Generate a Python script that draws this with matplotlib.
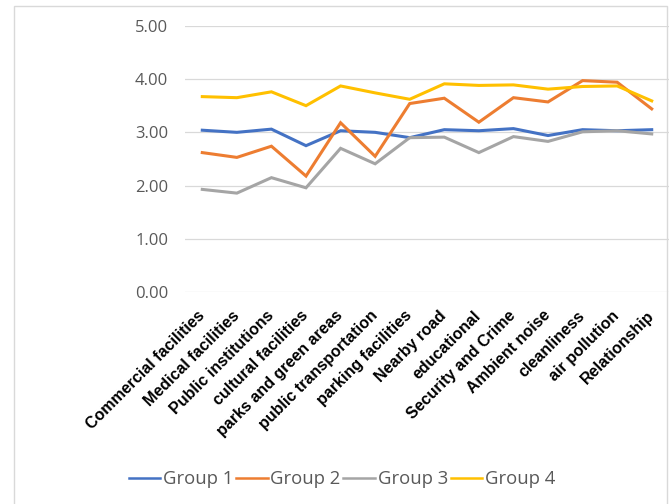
import matplotlib
matplotlib.use("Agg")
import matplotlib.pyplot as plt
from matplotlib.patches import Rectangle

# categories and group means
categories = ["Commercial facilities", "Medical facilities", "Public institutions",
              "cultural facilities", "parks and green areas", "public transportation",
              "parking facilities", "Nearby road", "educational", "Security and Crime",
              "Ambient noise", "cleanliness", "air pollution", "Relationship"]
group1 = [3.04, 3.00, 3.06, 2.75, 3.03, 3.00, 2.90, 3.05, 3.03, 3.07, 2.94, 3.05, 3.03, 3.05]
group2 = [2.62, 2.53, 2.74, 2.18, 3.18, 2.55, 3.54, 3.64, 3.19, 3.65, 3.57, 3.97, 3.94, 3.44]
group3 = [1.93, 1.86, 2.15, 1.96, 2.70, 2.41, 2.90, 2.91, 2.62, 2.92, 2.83, 3.01, 3.03, 2.97]
group4 = [3.67, 3.65, 3.76, 3.50, 3.87, 3.74, 3.62, 3.91, 3.88, 3.89, 3.81, 3.86, 3.87, 3.59]
series = {"Group 1": group1, "Group 2": group2, "Group 3": group3, "Group 4": group4}
colors = ["#4472C4", "#ED7D31", "#A5A5A5", "#FFC000"]
yticks = [0, 1, 2, 3, 4, 5]

W, H = 672, 504
fig = plt.figure(figsize=(W / 100, H / 100), dpi=100)
ax = fig.add_axes([185 / W, 1 - 292.3 / H, (669 - 185) / W, (292.3 - 25.7) / H])

x = list(range(len(categories)))
for (name, vals), c in zip(series.items(), colors):
    ax.plot(x, vals, color=c, lw=2.2, label=name, solid_joinstyle="miter")

ax.set_xlim(-0.5, len(categories) - 0.5)
ax.set_ylim(0, 5)
ax.set_yticks(yticks)
ax.set_yticklabels([f"{v:.2f}" for v in yticks], fontfamily="Open Sans",
                   fontsize=12, color="#595959")
ax.set_xticks(x)
ax.set_xticklabels(categories, rotation=45, ha="right", va="center",
                   rotation_mode="anchor", fontfamily="Liberation Sans",
                   fontweight="bold", fontsize=11.5, color="black")
ax.tick_params(axis="y", length=0, pad=12)
ax.tick_params(axis="x", length=0, pad=15)
ax.grid(axis="y", color="#D9D9D9", lw=0.9)
ax.set_axisbelow(True)
for s in ax.spines.values():
    s.set_visible(False)

leg = fig.legend(loc="center", bbox_to_anchor=(342 / W, 1 - 479 / H), ncol=4,
                 frameon=False, handlelength=1.7, handletextpad=0.15,
                 columnspacing=0.15, prop={"family": "Open Sans", "size": 13.3})
for t in leg.get_texts():
    t.set_color("#595959")
for l in leg.get_lines():
    l.set_linewidth(1.8)

# outer chart frame
fig.patches.append(Rectangle((14 / W, -0.02), (667 - 14) / W, 1 - 6 / H + 0.02,
                             transform=fig.transFigure, fill=False,
                             edgecolor="#D9D9D9", lw=1))

fig.savefig("out.png", dpi=100)
